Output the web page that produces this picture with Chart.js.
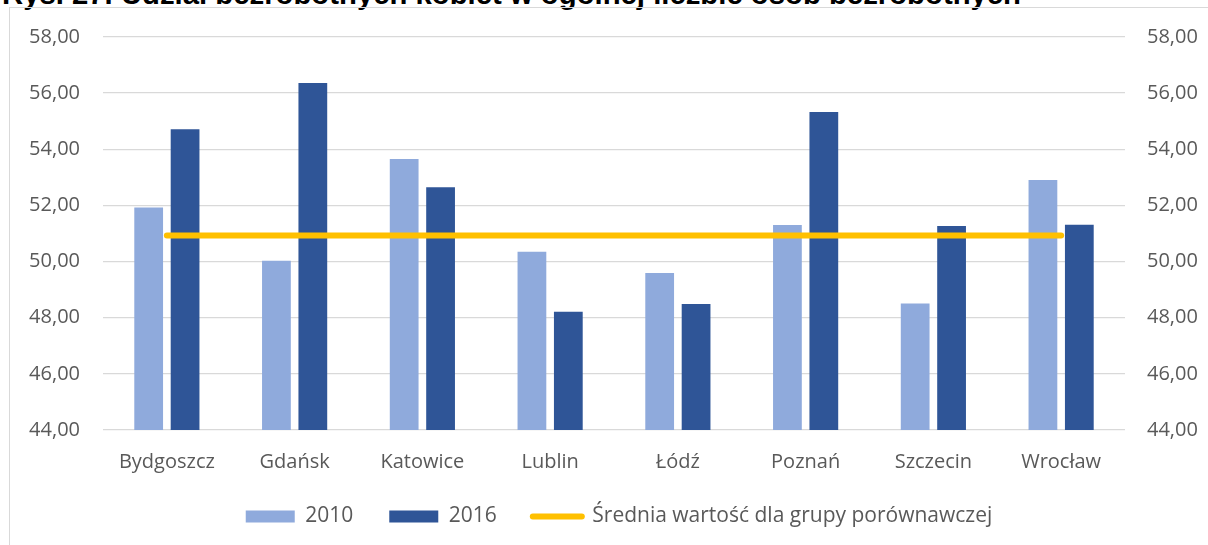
<!DOCTYPE html>
<html lang="pl">
<head>
<meta charset="utf-8">
<script src="https://cdn.jsdelivr.net/npm/chart.js@4.4.1/dist/chart.umd.min.js"></script>
<style>
  html, body { margin: 0; padding: 0; background: #fff; overflow: hidden; }
  #wrap { position: relative; width: 1208px; height: 545px; overflow: hidden; }
  #title {
    position: absolute; left: 2px; top: -21px; white-space: nowrap;
    font: bold 29.3px "Liberation Sans", Arial, sans-serif; line-height: 29px; color: #000;
  }
  #frame {
    position: absolute; left: 9px; top: 7px; width: 1400px; height: 700px;
    border: 1px solid #d9d9d9; box-sizing: border-box;
  }
  #chartBox { position: absolute; left: 0; top: 0; width: 1208px; height: 545px; }
</style>
</head>
<body>
<div id="wrap">
  <div id="title">Rys. 27. Udział bezrobotnych kobiet w ogólnej liczbie osób bezrobotnych</div>
  <div id="frame"></div>
  <div id="chartBox"><canvas id="chart"></canvas></div>
</div>
<script>
// Data
const cities = ['Bydgoszcz', 'Gdańsk', 'Katowice', 'Lublin', 'Łódź', 'Poznań', 'Szczecin', 'Wrocław'];
const values2010 = [51.93, 50.03, 53.65, 50.35, 49.59, 51.30, 48.51, 52.91];
const values2016 = [54.71, 56.36, 52.65, 48.21, 48.49, 55.33, 51.27, 51.31];
const groupAverage = [50.93, 50.93, 50.93, 50.93, 50.93, 50.93, 50.93, 50.93];
const seriesLabels = ['2010', '2016', 'Średnia wartość dla grupy porównawczej'];
const axisMin = 44;
const axisMax = 58;
const axisStep = 2;

const textColor = '#595959';
const gridColor = '#d9d9d9';
const fontFamily = '"Open Sans", sans-serif';

function formatTick(v) {
  return v.toFixed(2).replace('.', ',');
}

// legend keeps its wide item spacing but sits a bit higher and right, like the original
const legendShift = {
  id: 'legendShift',
  afterLayout(chart) {
    const lg = chart.legend;
    if (!lg) return;
    lg.top -= 8;
    lg.bottom -= 8;
    lg.left += 15;
    lg.right += 15;
  }
};

const ctx = document.getElementById('chart').getContext('2d');
new Chart(ctx, {
  type: 'bar',
  data: {
    labels: cities,
    datasets: [
      {
        label: seriesLabels[0],
        data: values2010,
        backgroundColor: '#8FAADC',
        borderWidth: 0,
        yAxisID: 'y',
        order: 1
      },
      {
        label: seriesLabels[1],
        data: values2016,
        backgroundColor: '#2F5597',
        borderWidth: 0,
        yAxisID: 'y',
        order: 1
      },
      {
        type: 'line',
        label: seriesLabels[2],
        data: groupAverage,
        borderColor: '#FFC000',
        backgroundColor: '#FFC000',
        borderWidth: 6,
        borderCapStyle: 'round',
        pointRadius: 0,
        pointHoverRadius: 0,
        tension: 0,
        yAxisID: 'y2',
        order: 0
      }
    ]
  },
  plugins: [legendShift],
  options: {
    responsive: true,
    maintainAspectRatio: false,
    animation: false,
    layout: { padding: { top: 37, left: 0, right: 0, bottom: 0 } },
    datasets: {
      bar: { categoryPercentage: 0.57, barPercentage: 0.79 }
    },
    plugins: {
      tooltip: { enabled: false },
      legend: {
        position: 'bottom',
        labels: {
          color: textColor,
          font: { family: fontFamily, size: 21 },
          usePointStyle: true,
          pointStyleWidth: 49,
          boxHeight: 12,
          padding: 36,
          generateLabels: chart => {
            const items = Chart.defaults.plugins.legend.labels.generateLabels(chart);
            items.forEach(it => {
              if (it.datasetIndex === 2) {
                it.pointStyle = 'line';
                it.lineWidth = 6;
                it.strokeStyle = '#FFC000';
                it.lineCap = 'round';
              } else {
                it.pointStyle = 'rect';
                it.lineWidth = 0;
              }
            });
            return items.sort((a, b) => a.datasetIndex - b.datasetIndex);
          }
        }
      }
    },
    scales: {
      x: {
        grid: { display: false },
        border: { display: false },
        ticks: { color: textColor, font: { family: fontFamily, size: 20 }, padding: 12 },
        afterFit: scale => { scale.height = 48; }
      },
      y: {
        position: 'left',
        min: axisMin,
        max: axisMax,
        grid: { color: gridColor, lineWidth: 1.3, drawTicks: false },
        border: { display: false },
        ticks: {
          stepSize: axisStep,
          color: textColor,
          font: { family: fontFamily, size: 20 },
          padding: 23,
          callback: v => formatTick(v)
        },
        afterFit: scale => { scale.width = 103; }
      },
      y2: {
        position: 'right',
        min: axisMin,
        max: axisMax,
        grid: { display: false, drawTicks: false },
        border: { display: false },
        ticks: {
          stepSize: axisStep,
          color: textColor,
          font: { family: fontFamily, size: 20 },
          padding: 22,
          callback: v => formatTick(v)
        },
        afterFit: scale => { scale.width = 83; }
      }
    }
  }
});
</script>
</body>
</html>
